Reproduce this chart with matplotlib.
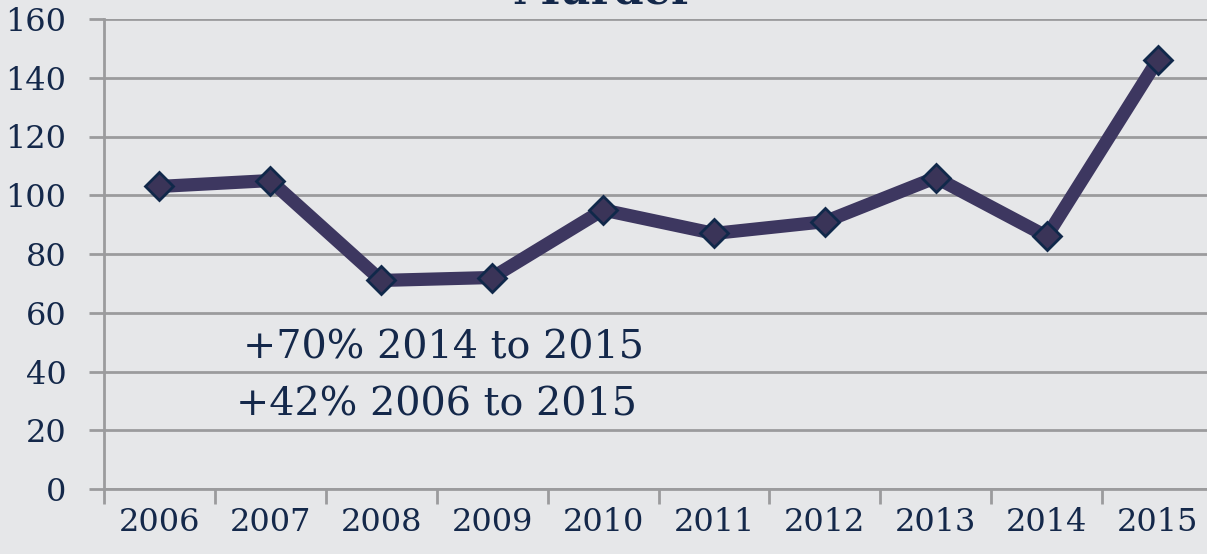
import numpy as np
import matplotlib.pyplot as plt

years = ['2006', '2007', '2008', '2009', '2010', '2011', '2012', '2013', '2014', '2015']
murders = [103, 105, 71, 72, 95, 87, 91, 106, 86, 146]
yticks = [0, 20, 40, 60, 80, 100, 120, 140, 160]
notes = ['+70% 2014 to 2015', '+42% 2006 to 2015']

bg = '#E6E7E9'
txt = '#14284A'
grid = '#9B9B9D'

plt.rcParams['font.family'] = ['DejaVu Serif']

fig = plt.figure(figsize=(12.07, 5.54), dpi=100, facecolor=bg)
ax = fig.add_axes([104 / 1207, 65 / 554, 1109 / 1207, 470 / 554])
ax.set_facecolor(bg)

x = np.arange(len(years))
ax.plot(x, murders, color='#3D3760', lw=9.5, solid_joinstyle='round', zorder=3)
ax.plot(x, murders, ls='none', marker='D', ms=14, mfc='#3A3458', mec='#10284A',
        mew=2, zorder=4)

ax.set_xlim(-0.5, len(years) - 0.5)
ax.set_ylim(0, 160)

# y axis
ax.set_yticks(yticks)
ax.set_yticklabels([str(v) for v in yticks], fontsize=23, color=txt)
ax.yaxis.grid(True, color=grid, lw=2)
ax.set_axisbelow(True)

# x axis: tick marks at boundaries, labels centered
ax.set_xticks(np.arange(-0.5, len(years)), minor=False)
ax.set_xticklabels([])
ax.set_xticks(x, minor=True)
ax.set_xticklabels(years, minor=True, fontsize=23, color=txt)
ax.tick_params(axis='x', which='minor', length=0, pad=13)
ax.tick_params(axis='both', which='major', length=11, width=2, color=grid,
               direction='out')
ax.tick_params(axis='y', pad=16)

for s in ['top', 'right']:
    ax.spines[s].set_visible(False)
for s in ['left', 'bottom']:
    ax.spines[s].set_color(grid)
    ax.spines[s].set_linewidth(2)

ax.text(0.75, 48, notes[0], fontsize=28.5, color=txt, va='center', ha='left')
ax.text(0.69, 28.5, notes[1], fontsize=28.5, color=txt, va='center', ha='left')

fig.text(0.5, 1.0 - 4 / 554, 'Murder', fontsize=31, fontweight='bold', color=txt,
         ha='center', va='baseline')

fig.savefig('out.png', dpi=100, facecolor=bg)
